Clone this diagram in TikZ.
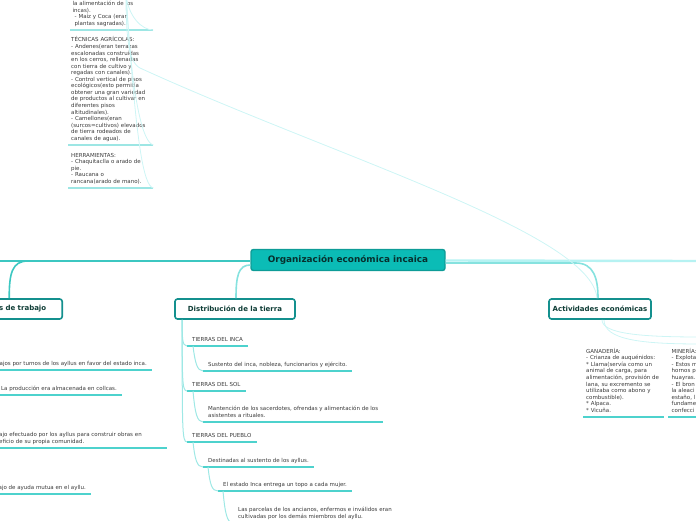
\documentclass[tikz,border=0pt]{standalone}
\usepackage{fontspec}
\setmainfont{DejaVu Sans}
\usepackage{tikz}
\definecolor{tealfill}{HTML}{0BBCB6}
\definecolor{tealedge}{HTML}{0E9C97}
\definecolor{titletext}{HTML}{07302E}
\definecolor{branchedge}{HTML}{14908E}
\definecolor{branchtext}{HTML}{0F3D36}
\definecolor{itemtext}{HTML}{3A3A3A}
\definecolor{ulinecol}{HTML}{4DD2CD}
\definecolor{conncol}{HTML}{86E2DF}
\definecolor{faintcol}{HTML}{CDF5F5}
\definecolor{leftline}{HTML}{3CC7C1}
\definecolor{rightline}{HTML}{B6F2F2}

\begin{document}
\begin{tikzpicture}[x=1pt,y=-1pt,
	central/.style={draw=tealedge, fill=tealfill, line width=1.4pt, rounded corners=2.5pt, minimum width=194pt, minimum height=21pt, inner sep=0pt, font=\fontsize{8.9}{10}\selectfont\bfseries, text=titletext},
	branch/.style={draw=branchedge, fill=white, line width=1.6pt, rounded corners=2.5pt, minimum height=20pt, inner sep=0pt, font=\fontsize{7}{8}\selectfont\bfseries, text=branchtext},
	item/.style={inner xsep=5pt, inner ysep=2.6pt, align=left, font=\fontsize{5.5}{6.55}\selectfont, text=itemtext, execute at end node=\strut},
	uline/.style={draw=ulinecol, line width=1.3pt},
	paleline/.style={draw=ulinecol!55!white, line width=1.2pt},
	conn/.style={draw=conncol, line width=1.6pt},
	subconn/.style={draw=conncol!80!white, line width=1pt},
	faint/.style={draw=faintcol, line width=0.8pt}]
	\useasboundingbox (0,0) rectangle (696,520);

	\node[central] (cen) at (348,260) {Organización económica incaica};
	\node[branch, anchor=east, text width=80pt, align=right, inner xsep=16pt] (stra) at (63,309) {s de trabajo};
	\node[branch, minimum width=120pt] (dist) at (235,309) {Distribución de la tierra};
	\node[branch, minimum width=102pt] (acti) at (600,309) {Actividades económicas};

	\node[item, anchor=south west, text width=78pt, inner xsep=2.5pt] (frag) at (70,30) {la alimentación de los\\incas).\\\hspace*{2pt}- Maíz y Coca (eran\\\hspace*{2pt}plantas sagradas).};
	\node[item, anchor=south west, text width=79pt, inner xsep=3pt] (tecn) at (68,145) {TÉCNICAS AGRÍCOLAS:\\- Andenes(eran terrazas\\escalonadas construidas\\en los cerros, rellenadas\\con tierra de cultivo y\\regadas con canales).\\- Control vertical de pisos\\ecológicos(esto permitía\\obtener una gran variedad\\de productos al cultivar en\\diferentes pisos\\altitudinales).\\- Camellones(eran\\(surcos=cultivos) elevados\\de tierra rodeados de\\canales de agua).};
	\node[item, anchor=south west, text width=79pt, inner xsep=3pt] (herr) at (68,188) {HERRAMIENTAS:\\- Chaquitaclla o arado de\\pie.\\- Raucana o\\rancana(arado de mano).};

	\node[item, anchor=south east] (mita) at (152,370) {ajos por turnos de los ayllus en favor del estado inca.};
	\node[item, anchor=south east] (prod) at (122,395) {La producción era almacenada en collcas.};
	\node[item, anchor=south west, text width=163pt] (minka) at (-6,448) {ajo efectuado por los ayllus para construir obras en\\eficio de su propia comunidad.};
	\node[item, anchor=south east] (ayni) at (91,494) {ajo de ayuda mutua en el ayllu.};

	\node[item, anchor=south west] (tinca) at (187,346) {TIERRAS DEL INCA};
	\node[item, anchor=south west] (sinca) at (203,371) {Sustento del inca, nobleza, funcionarios y ejército.};
	\node[item, anchor=south west] (tsol) at (187,391) {TIERRAS DEL SOL};
	\node[item, anchor=south west] (msol) at (203,422) {Mantención de los sacerdotes, ofrendas y alimentación de los\\asistentes a rituales.};
	\node[item, anchor=south west] (tpue) at (187,442) {TIERRAS DEL PUEBLO};
	\node[item, anchor=south west] (dpue) at (203,467) {Destinadas al sustento de los ayllus.};
	\node[item, anchor=south west] (epue) at (218,491) {El estado Inca entrega un topo a cada mujer.};
	\node[item, anchor=south west] (lpue) at (233,523) {Las parcelas de los ancianos, enfermos e inválidos eran\\cultivadas por los demás miembros del ayllu.};

	\node[item, anchor=south west, text width=75pt, inner xsep=3pt] (gana) at (583,417) {GANADERÍA:\\- Crianza de auquénidos:\\{}* Llama(servía como un\\animal de carga, para\\alimentación, provisión de\\lana, su excremento se\\utilizaba como abono y\\combustible).\\{}* Alpaca.\\{}* Vicuña.};
	\node[item, anchor=south west, text width=76pt, inner xsep=3.5pt] (mine) at (668,417) {MINERÍA:\\- Explota\\- Estos m\\hornos p\\huayras.\\- El bron\\la aleaci\\estaño, l\\fundame\\confecci};

	\foreach \n in {mita,prod,minka,ayni,tinca,sinca,tsol,msol,tpue,dpue,epue,lpue,gana,mine}
		\draw[uline] (\n.south west) -- (\n.south east);
	\foreach \n in {frag,tecn,herr}
		\draw[paleline] (\n.south west) -- (\n.south east);

	\coordinate (lend) at (-5,261);
	\coordinate (lsplit) at (28,261);
	\coordinate (rend) at (701,261);
	\coordinate (topc) at (126,-6);
	\coordinate (bend) at (140,68);
	\coordinate (mr1) at (701,337);
	\coordinate (mr2) at (701,344);

	\draw[conn, draw=leftline, line width=2.4pt] ([yshift=-1pt]cen.west) -- (lend);
	\draw[conn, draw=rightline, line width=2.4pt] ([yshift=-0.5pt]cen.east) -- (rend);
	\draw[conn, draw=leftline] (lsplit) .. controls +(-16,0) and +(0,-25) .. ([xshift=3pt]stra.north);
	\draw[conn] ([yshift=-5pt]cen.west) .. controls +(-12,0) and +(0,-22) .. ([xshift=1pt]dist.north);
	\draw[conn] ([yshift=-3pt]cen.east) -- ++(130,0) .. controls +(18,0) and +(0,-20) .. ([xshift=-2pt]acti.north);

	\draw[subconn] ([xshift=8pt]dist.south west) .. controls +(0,18) and +(-5,0) .. (tinca.south west);
	\draw[subconn] ([xshift=8pt]dist.south west) .. controls +(0,60) and +(-5,0) .. (tsol.south west);
	\draw[subconn] ([xshift=8pt]dist.south west) .. controls +(0,110) and +(-5,0) .. (tpue.south west);
	\draw[subconn] ([xshift=6pt]tinca.south west) .. controls +(2,16) and +(-6,0) .. (sinca.south west);
	\draw[subconn] ([xshift=6pt]tsol.south west) .. controls +(2,22) and +(-6,0) .. (msol.south west);
	\draw[subconn] ([xshift=6pt]tpue.south west) .. controls +(2,18) and +(-6,0) .. (dpue.south west);
	\draw[subconn] ([xshift=5pt]dpue.south west) .. controls +(2,18) and +(-6,0) .. (epue.south west);
	\draw[subconn] ([xshift=5pt]epue.south west) .. controls +(2,22) and +(-6,0) .. (lpue.south west);

	\draw[faint] ([xshift=-3pt]acti.north) .. controls +(-5,-65) and +(190,87) .. (bend) .. controls +(-12,-6) and +(0,40) .. (topc);
	\draw[faint] (topc) .. controls +(2,22) and +(-12,0) .. (frag.south east);
	\draw[faint] (topc) .. controls +(6,110) and +(-10,-2) .. (tecn.south east);
	\draw[faint] (topc) .. controls +(10,150) and +(-10,-2) .. (herr.south east);
	\draw[faint] ([xshift=2pt]acti.south) .. controls +(0,14) and +(-60,0) .. (mr1);
	\draw[faint] ([xshift=4pt]acti.south) .. controls +(0,20) and +(-60,0) .. (mr2);
\end{tikzpicture}
\end{document}
